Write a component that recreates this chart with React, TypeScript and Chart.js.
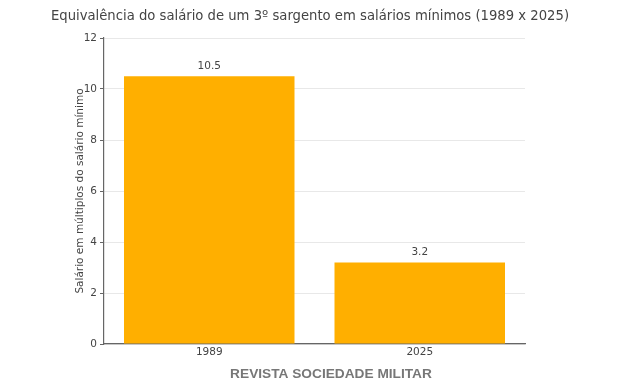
import React, { useEffect, useRef } from "react";
import { Chart, registerables } from "chart.js";

Chart.register(...registerables);

const categories = ["1989", "2025"];
const values = [10.5, 3.2];
const valueLabels = ["10.5", "3.2"];
const yTicks = [0, 2, 4, 6, 8, 10, 12];
const titleText = "Equivalência do salário de um 3º sargento em salários mínimos (1989 x 2025)";
const yTitleText = "Salário em múltiplos do salário mínimo";
const footerText = "REVISTA SOCIEDADE MILITAR";

const textPlugin = {
  id: "texts",
  afterDraw(chart: any) {
    const ctx = chart.ctx;
    const area = chart.chartArea;
    ctx.save();
    // title
    ctx.fillStyle = "#444";
    ctx.font = "13.2px 'DejaVu Sans'";
    ctx.textAlign = "center";
    ctx.textBaseline = "middle";
    ctx.fillText(titleText, 310, 17);
    // y title
    ctx.save();
    ctx.translate(80, (area.top + area.bottom) / 2);
    ctx.rotate(-Math.PI / 2);
    ctx.font = "10.5px 'DejaVu Sans'";
    ctx.fillStyle = "#444";
    ctx.fillText(yTitleText, 0, 0);
    ctx.restore();
    // value labels
    const meta = chart.getDatasetMeta(0);
    ctx.font = "10.5px 'DejaVu Sans'";
    ctx.fillStyle = "#444";
    ctx.textBaseline = "bottom";
    meta.data.forEach((bar: any, i: number) => {
      ctx.fillText(valueLabels[i], bar.x, bar.y - 5);
    });
    // footer
    ctx.font = "bold 13.7px 'Liberation Sans'";
    ctx.fillStyle = "#777";
    ctx.textBaseline = "middle";
    ctx.fillText(footerText, 331, 374);
    ctx.restore();
  },
};

export default function App() {
  const ref = useRef<HTMLCanvasElement>(null);
  useEffect(() => {
    const chart = new Chart(ref.current!, {
      type: "bar",
      data: {
        labels: categories,
        datasets: [
          {
            data: values,
            backgroundColor: "#FFAF00",
            categoryPercentage: 1,
            barPercentage: 0.81,
          },
        ],
      },
      options: {
        responsive: false,
        animation: false,
        layout: { padding: { left: 0, top: 38, right: 95, bottom: 0 } },
        plugins: { legend: { display: false }, tooltip: { enabled: false } },
        scales: {
          x: {
            afterFit: (s: any) => {
              s.height = 44;
            },
            grid: { display: false, drawTicks: false },
            border: { color: "#666", width: 1.2 },
            ticks: { color: "#444", font: { family: "DejaVu Sans", size: 10.5 }, padding: 2 },
          },
          y: {
            min: 0,
            max: 12,
            afterFit: (s: any) => {
              s.width = 104;
            },
            afterBuildTicks: (s: any) => {
              s.ticks = yTicks.map((v) => ({ value: v }));
            },
            grid: { color: "#e8e8e8", tickLength: 4, tickColor: "#666" },
            border: { color: "#666", width: 1.2 },
            ticks: { color: "#444", font: { family: "DejaVu Sans", size: 10.5 }, padding: 3 },
          },
        },
      },
      plugins: [textPlugin],
    });
    return () => chart.destroy();
  }, []);
  return (
    <div style={{ position: "fixed", left: 0, top: 0, width: 620, height: 388, background: "#fff" }}>
      <canvas ref={ref} width={620} height={388} />
    </div>
  );
}
